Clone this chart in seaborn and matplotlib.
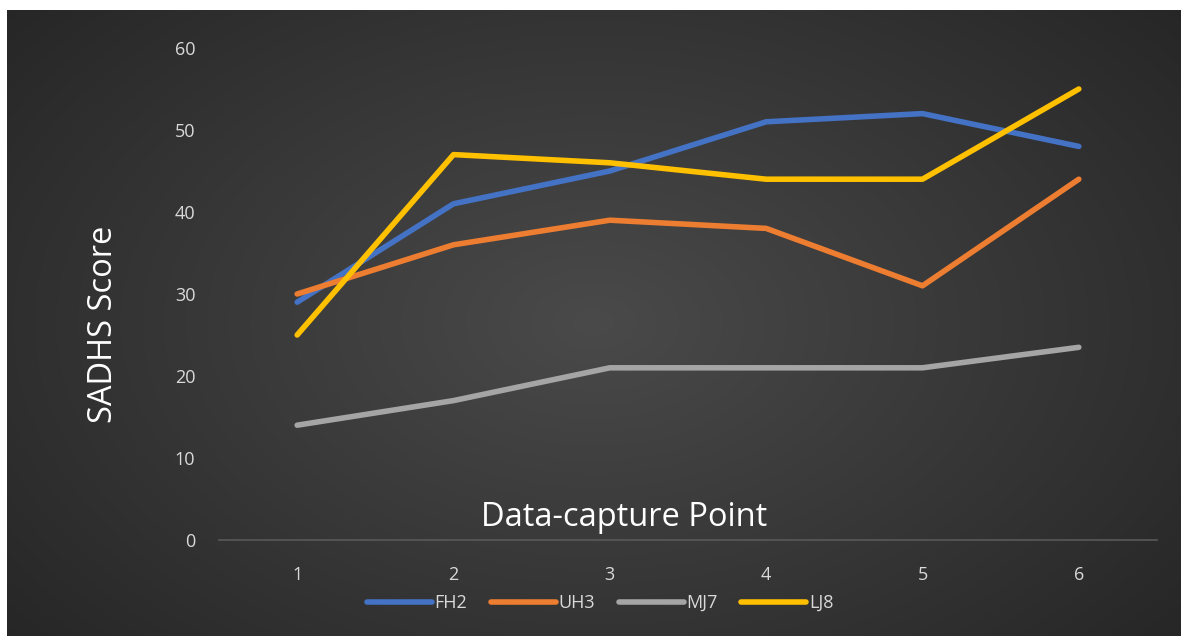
import numpy as np
import pandas as pd
import matplotlib
matplotlib.use("Agg")
import matplotlib.pyplot as plt
from matplotlib.lines import Line2D
import seaborn as sns

points = [1, 2, 3, 4, 5, 6]
fh2 = [29, 41, 45, 51, 52, 48]
uh3 = [30, 36, 39, 38, 31, 44]
mj7 = [14, 17, 21, 21, 21, 23.5]
lj8 = [25, 47, 46, 44, 44, 55]
series_names = ["FH2", "UH3", "MJ7", "LJ8"]
colors = ["#4472C4", "#ED7D31", "#A5A5A5", "#FFC000"]

df = pd.DataFrame({"point": points, "FH2": fh2, "UH3": uh3, "MJ7": mj7, "LJ8": lj8})
long = df.melt(id_vars="point", var_name="series", value_name="score")

sns.set_theme(style="dark")
plt.rcParams["font.family"] = ["Open Sans", "DejaVu Sans"]

W, H = 1181, 636
fig = plt.figure(figsize=(W / 100, H / 100), dpi=100)
fig.patch.set_facecolor("white")

# dark radial-gradient panel
bg = fig.add_axes([7 / W, 0, 1 - 7 / W, 1 - 10 / H])
yy, xx = np.mgrid[0:1:300j, 0:1:560j]
r = np.sqrt(((xx - 0.5) / 0.75) ** 2 + ((yy - 0.5) / 0.9) ** 2)
shade = np.clip(0.29 - 0.16 * r, 0.15, 0.3)
bg.imshow(np.dstack([shade, shade, shade]), aspect="auto", extent=[0, 1, 0, 1],
          interpolation="bilinear")
bg.set_axis_off()

x0, x1 = 219 / W, 1157 / W
y_bot, y_top = 1 - 540 / H, 1 - 48 / H
ax = fig.add_axes([x0, y_bot, x1 - x0, y_top - y_bot])
ax.patch.set_alpha(0)

sns.lineplot(data=long, x="point", y="score", hue="series", hue_order=series_names,
             palette=colors, linewidth=4, ax=ax, legend=False,
             solid_capstyle="round", solid_joinstyle="round")

ax.set_xlim(0.5, 6.5)
ax.set_ylim(0, 60)
ax.set_yticks(range(0, 61, 10))
ax.set_xticks(points)
ax.grid(False)
for s in ["top", "right", "left"]:
    ax.spines[s].set_visible(False)
ax.spines["bottom"].set_color("#595959")
ax.spines["bottom"].set_linewidth(1.2)
ax.tick_params(axis="both", length=0, colors="#D9D9D9", labelsize=13)
ax.tick_params(axis="y", pad=17)
ax.tick_params(axis="x", pad=19)
ax.set_xlabel("")
ax.set_ylabel("")

fig.text(624 / W, 1 - 517 / H, "Data-capture Point", color="white", fontsize=23.5,
         ha="center", va="center")
fig.text(103 / W, 1 - 324 / H, "SADHS Score", color="white", fontsize=23.5,
         ha="center", va="center", rotation=90)

handles = [Line2D([0], [0], color=c, lw=4, solid_capstyle="round") for c in colors]
leg = fig.legend(handles, series_names, loc="center", bbox_to_anchor=(600 / W, 1 - 603 / H),
                 ncol=4, frameon=False, fontsize=13, handlelength=3.6, handletextpad=0.15,
                 columnspacing=1.3)
for t in leg.get_texts():
    t.set_color("#D9D9D9")

fig.savefig("out.png", dpi=100, facecolor=fig.get_facecolor())
